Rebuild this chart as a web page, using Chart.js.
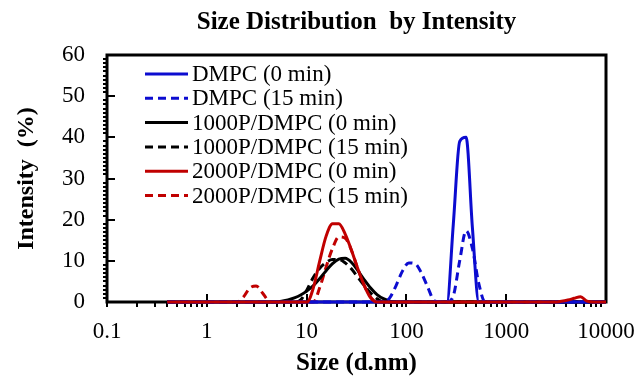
<!DOCTYPE html>
<html lang="en">
<head>
<meta charset="UTF-8">
<title>Size Distribution by Intensity</title>
<script src="https://cdn.jsdelivr.net/npm/chart.js@4.4.0"></script>
<style>
    html, body { margin: 0; padding: 0; background: #fff; }
    canvas { display: block; }
</style>
</head>
<body>
<canvas id="myChart" width="641" height="379"></canvas>
<script>
// DLS size bins (d.nm)
const sizes = [
    0.4, 0.4632, 0.5365, 0.6213, 0.7195, 0.8332, 0.9649, 1.117, 1.294, 1.499,
    1.736, 2.010, 2.328, 2.696, 3.122, 3.615, 4.187, 4.849, 5.615, 6.503,
    7.531, 8.721, 10.10, 11.70, 13.54, 15.69, 18.17, 21.04, 24.36, 28.21,
    32.67, 37.84, 43.82, 50.75, 58.77, 68.06, 78.82, 91.28, 105.7, 122.4,
    141.8, 164.2, 190.1, 220.2, 255.0, 295.3, 342.0, 396.1, 458.7, 531.2,
    615.1, 712.4, 825.0, 955.4, 1106, 1281, 1484, 1718, 1990, 2305,
    2669, 3091, 3580, 4145, 4801, 5560, 6439, 7456, 8635, 10000
];

// intensity (%) per bin
const dmpc0 = [
    0, 0, 0, 0, 0, 0, 0, 0, 0, 0,
    0, 0, 0, 0, 0, 0, 0, 0, 0, 0,
    0, 0, 0, 0, 0, 0, 0, 0, 0, 0,
    0, 0, 0, 0, 0, 0, 0, 0, 0, 0,
    0, 0, 0, 0, 0, 19, 39, 40, 18, 0,
    0, 0, 0, 0, 0, 0, 0, 0, 0, 0,
    0, 0, 0, 0, 0, 0, 0, 0, 0, 0
];
const dmpc15 = [
    0, 0, 0, 0, 0, 0, 0, 0, 0, 0,
    0, 0, 0, 0, 0, 0, 0, 0, 0, 0,
    0, 0, 0, 0, 0, 0, 0, 0, 0, 0,
    0, 0, 0, 0, 0, 1, 4, 7.5, 9.5, 9.3,
    7, 3.5, 0.3, 0, 0, 1.5, 10, 17.3, 13, 4.5,
    0, 0, 0, 0, 0, 0, 0, 0, 0, 0,
    0, 0, 0, 0, 0, 0, 0, 0, 0, 0
];
const p1000_0 = [
    0, 0, 0, 0, 0, 0, 0, 0, 0, 0,
    0, 0, 0, 0, 0, 0, 0, 0, 0.2, 0.5,
    1.0, 1.7, 2.7, 4.0, 5.7, 7.6, 9.3, 10.4, 10.6, 9.6,
    7.6, 5.4, 3.4, 1.8, 0.8, 0.2, 0, 0, 0, 0,
    0, 0, 0, 0, 0, 0, 0, 0, 0, 0,
    0, 0, 0, 0, 0, 0, 0, 0, 0, 0,
    0, 0, 0, 0, 0, 0, 0, 0, 0, 0
];
const p1000_15 = [
    0, 0, 0, 0, 0, 0, 0, 0, 0, 0,
    0, 0, 0, 0, 0, 0, 0, 0, 0, 0,
    0, 0.5, 3.0, 6.0, 8.2, 9.6, 10.3, 10.3, 9.5, 8.0,
    6.0, 4.0, 2.2, 0.8, 0, 0, 0, 0, 0, 0,
    0, 0, 0, 0, 0, 0, 0, 0, 0, 0,
    0, 0, 0, 0, 0, 0, 0, 0, 0, 0,
    0, 0, 0, 0, 0, 0, 0, 0, 0, 0
];
const p2000_0 = [
    0, 0, 0, 0, 0, 0, 0, 0, 0, 0,
    0, 0, 0, 0, 0, 0, 0, 0, 0, 0,
    0, 0, 0, 3.5, 10, 16, 19, 19, 16.5, 12.5,
    8, 4, 1, 0, 0, 0, 0, 0, 0, 0,
    0, 0, 0, 0, 0, 0, 0, 0, 0, 0,
    0, 0, 0, 0, 0, 0, 0, 0, 0, 0,
    0, 0, 0.2, 0.5, 0.9, 1.3, 0.2, 0, 0, 0
];
const p2000_15 = [
    0, 0, 0, 0, 0, 0, 0, 0, 0, 0,
    0, 0, 1.2, 3.4, 3.9, 2.2, 0.3, 0, 0, 0,
    0, 0, 0, 0, 3.5, 8.5, 13, 15.8, 15.5, 12.5,
    8, 4, 1.2, 0, 0, 0, 0, 0, 0, 0,
    0, 0, 0, 0, 0, 0, 0, 0, 0, 0,
    0, 0, 0, 0, 0, 0, 0, 0, 0, 0,
    0, 0, 0, 0, 0, 0, 0, 0, 0, 0
];

const seriesLabels = ['DMPC (0 min)', 'DMPC (15 min)', '1000P/DMPC (0 min)',
                      '1000P/DMPC (15 min)', '2000P/DMPC (0 min)', '2000P/DMPC (15 min)'];
const xTickValues = [0.1, 1, 10, 100, 1000, 10000];
const xTickLabels = ['0.1', '1', '10', '100', '1000', '10000'];

const BLUE = '#0c0cd0';
const RED = '#c00000';
const BLACK = '#000000';
const SERIF = "'Liberation Serif', 'Times New Roman', serif";

const toPoints = vals => sizes.map((s, i) => ({ x: s, y: vals[i] }));

function makeSet(label, vals, color, dashed, order) {
    return {
        label: label,
        data: toPoints(vals),
        borderColor: color,
        backgroundColor: color,
        borderWidth: 3,
        borderDash: dashed ? [8, 5] : [],
        pointRadius: 0,
        cubicInterpolationMode: 'monotone',
        fill: false,
        clip: false,
        order: order
    };
}

// frame, inward major ticks, outward minor ticks, legend in the plot
const framePlugin = {
    id: 'frame',
    beforeDatasetsDraw(chart) {
        const { ctx, chartArea: a, scales: { x, y } } = chart;
        ctx.save();
        ctx.strokeStyle = '#000';
        ctx.lineWidth = 3;
        ctx.strokeRect(a.left, a.top, a.right - a.left, a.bottom - a.top);
        ctx.lineWidth = 2;
        ctx.beginPath();
        for (let v = 0; v <= 60; v += 1) {
            const py = Math.round(y.getPixelForValue(v));
            if (v % 10 === 0) {
                ctx.moveTo(a.left, py); ctx.lineTo(a.left + 8, py);
            } else {
                ctx.moveTo(a.left - 4, py); ctx.lineTo(a.left, py);
            }
        }
        for (let d = 0.1; d < 10000; d *= 10) {
            for (let m = 1; m < 10; m++) {
                const px = Math.round(x.getPixelForValue(d * m));
                if (m === 1) {
                    ctx.moveTo(px, a.bottom - 8); ctx.lineTo(px, a.bottom + 5);
                } else {
                    ctx.moveTo(px, a.bottom); ctx.lineTo(px, a.bottom + 5);
                }
            }
        }
        ctx.stroke();
        ctx.restore();
    },
    afterDraw(chart) {
        const { ctx } = chart;
        ctx.save();
        ctx.font = '23px ' + SERIF;
        ctx.textBaseline = 'middle';
        ctx.textAlign = 'left';
        chart.data.datasets.forEach((ds, i) => {
            const ly = 74 + i * 24.3;
            ctx.strokeStyle = ds.borderColor;
            ctx.lineWidth = 3;
            ctx.setLineDash(ds.borderDash);
            ctx.beginPath();
            ctx.moveTo(145, ly); ctx.lineTo(188, ly);
            ctx.stroke();
            ctx.setLineDash([]);
            ctx.fillStyle = '#000';
            ctx.fillText(ds.label, 192, ly + 1);
        });
        ctx.restore();
    }
};

const ctx = document.getElementById('myChart').getContext('2d');
const myChart = new Chart(ctx, {
    type: 'scatter',
    data: {
        datasets: [
            makeSet(seriesLabels[0], dmpc0, BLUE, false, 1),
            makeSet(seriesLabels[1], dmpc15, BLUE, true, 2),
            makeSet(seriesLabels[2], p1000_0, BLACK, false, 3),
            makeSet(seriesLabels[3], p1000_15, BLACK, true, 4),
            makeSet(seriesLabels[4], p2000_0, RED, false, 0),
            makeSet(seriesLabels[5], p2000_15, RED, true, 5)
        ]
    },
    options: {
        responsive: false,
        animation: false,
        showLine: true,
        layout: { padding: { left: 0, right: 35, top: 0, bottom: 0 } },
        scales: {
            x: {
                type: 'logarithmic',
                min: 0.1,
                max: 10000,
                afterBuildTicks: scale => { scale.ticks = xTickValues.map(v => ({ value: v })); },
                afterFit: scale => {
                    scale.height = 77;
                    scale.paddingLeft = 0;
                    scale.paddingRight = 0;
                },
                grid: { display: false, drawTicks: false },
                border: { display: false },
                ticks: {
                    padding: 16,
                    color: '#000',
                    font: { family: SERIF, size: 23 },
                    maxRotation: 0,
                    autoSkip: false,
                    callback: (v) => {
                        const i = xTickValues.indexOf(v);
                        return i >= 0 ? xTickLabels[i] : '';
                    }
                },
                title: {
                    display: true,
                    text: 'Size (d.nm)',
                    color: '#000',
                    font: { family: SERIF, size: 25, weight: 'bold', lineHeight: 1.2 },
                    padding: { top: 0, bottom: 0 }
                }
            },
            y: {
                min: 0,
                max: 60,
                afterFit: scale => { scale.width = 107; },
                grid: { display: false, drawTicks: false },
                border: { display: false },
                ticks: {
                    stepSize: 10,
                    padding: 22,
                    color: '#000',
                    font: { family: SERIF, size: 23 }
                },
                title: {
                    display: true,
                    text: 'Intensity  (%)',
                    color: '#000',
                    font: { family: SERIF, size: 24, weight: 'bold', lineHeight: 1.2 },
                    padding: { top: 12, bottom: 0 }
                }
            }
        },
        plugins: {
            legend: { display: false },
            tooltip: { enabled: false },
            title: {
                display: true,
                fullSize: false,
                text: 'Size Distribution  by Intensity',
                color: '#000',
                font: { family: SERIF, size: 25, weight: 'bold', lineHeight: 1.2 },
                padding: { top: 8, bottom: 17 }
            }
        }
    },
    plugins: [framePlugin]
});
</script>
</body>
</html>
